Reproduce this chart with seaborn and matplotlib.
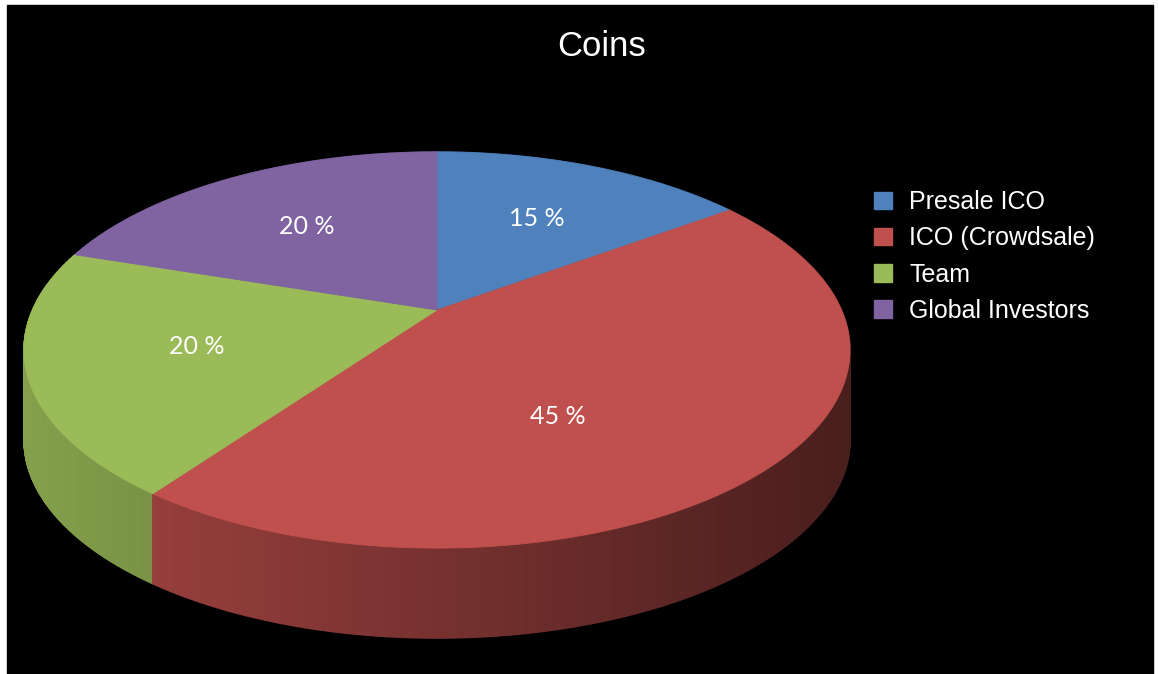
import numpy as np
import matplotlib.pyplot as plt
import matplotlib.patches as mpatches
from matplotlib.collections import PolyCollection
import seaborn as sns

# data
categories = ["Presale ICO", "ICO (Crowdsale)", "Team", "Global Investors"]
shares = [15, 45, 20, 20]
label_texts = ["15 %", "45 %", "20 %", "20 %"]
slice_colors = ["#4F81BD", "#C0504D", "#9BBB59", "#8064A2"]
title = "Coins"

# perspective pie geometry (pixel space, y down)
CX, CY = 437.0, 310.0
A, B, K = 404.5, 190.0, 0.202
DEPTH = 90.0
label_r = [0.6, 0.57, 0.6, 0.6]
label_nudge = [0, 17, 0, 0]  # degrees, label of the big slice sits lower


def project(theta, r=1.0):
    t = np.deg2rad(theta)
    u = r * np.sin(t)
    v = -r * np.cos(t)
    w = 1.0 - K * v
    return CX + A * u / w, CY + B * v / w


def shade(x):
    return 0.86 - 0.48 * (x - 22.0) / 826.0


sns.set_theme(style="dark", rc={"axes.facecolor": "white", "figure.facecolor": "white"})
plt.rcParams["font.family"] = ["Liberation Sans", "DejaVu Sans"]

rgb = sns.color_palette(slice_colors)
fig = plt.figure(figsize=(11.58, 6.74), dpi=100)
ax = fig.add_axes([0, 0, 1, 1])
ax.set_xlim(0, 1158)
ax.set_ylim(674, 0)
ax.set_axis_off()
ax.add_patch(mpatches.Rectangle((7, 5), 1146, 670, color="black", zorder=0))

bounds = np.concatenate([[0], np.cumsum(shares)]) * 360.0 / sum(shares)

# side walls, back to front
quads, qcols, qdepth = [], [], []
for i in range(len(shares)):
    th = np.linspace(bounds[i], bounds[i + 1], int((bounds[i + 1] - bounds[i]) * 2) + 2)
    for a0, a1 in zip(th[:-1], th[1:]):
        x0, y0 = project(a0)
        x1, y1 = project(a1)
        quads.append([(x0, y0), (x1, y1), (x1, y1 + DEPTH), (x0, y0 + DEPTH)])
        f = shade(0.5 * (x0 + x1))
        qcols.append(tuple(c * f for c in rgb[i]))
        qdepth.append(-np.cos(np.deg2rad(0.5 * (a0 + a1))))
order = np.argsort(qdepth)
ax.add_collection(PolyCollection([quads[j] for j in order],
                                 facecolors=[qcols[j] for j in order],
                                 edgecolors=[qcols[j] for j in order],
                                 linewidths=1.0, zorder=2))

# top faces
for i in range(len(shares)):
    th = np.linspace(bounds[i], bounds[i + 1], 200)
    xs, ys = project(th)
    pts = [(CX, CY)] + list(zip(xs, ys))
    ax.add_patch(mpatches.Polygon(pts, closed=True, facecolor=rgb[i],
                                  edgecolor=rgb[i], linewidth=0.6, zorder=3))
    mid = 0.5 * (bounds[i] + bounds[i + 1]) + label_nudge[i]
    lx, ly = project(mid, label_r[i])
    ax.text(lx, ly, label_texts[i], ha="center", va="center", color="white",
            fontsize=18, family=["Lato", "DejaVu Sans"], zorder=5)

ax.text(602, 46, title, ha="center", va="center", color="white", fontsize=25, zorder=5)

handles = [mpatches.Patch(facecolor=c, edgecolor=c, label=n) for c, n in zip(rgb, categories)]
ax.legend(handles=handles, loc="upper left", bbox_to_anchor=(874, 190),
          bbox_transform=ax.transData, frameon=False, fontsize=18,
          labelcolor="white", handlelength=0.7, handleheight=0.7,
          handletextpad=0.7, labelspacing=0.49, borderpad=0, borderaxespad=0)

fig.savefig("out.png", dpi=100)
